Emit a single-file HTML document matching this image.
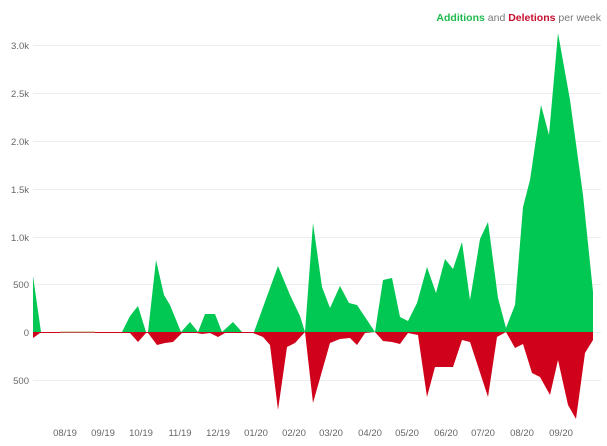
<!DOCTYPE html>
<html><head><meta charset="utf-8"><style>
html,body{margin:0;padding:0;background:#fff;}
svg{display:block;font-family:"Liberation Sans",sans-serif;}
</style></head><body>
<svg width="607" height="446" viewBox="0 0 607 446" xmlns="http://www.w3.org/2000/svg">
<text x="601" y="21" text-anchor="end" font-size="10.5" fill="#777"><tspan fill="#1fba4d" font-weight="bold">Additions</tspan> and <tspan fill="#c8102e" font-weight="bold">Deletions</tspan> per week</text>
<g stroke="#eee" stroke-width="1">
<line x1="33" x2="601" y1="45.5" y2="45.5"/><line x1="33" x2="601" y1="93.5" y2="93.5"/>
<line x1="33" x2="601" y1="141.5" y2="141.5"/><line x1="33" x2="601" y1="189.5" y2="189.5"/>
<line x1="33" x2="601" y1="237.5" y2="237.5"/><line x1="33" x2="601" y1="284.5" y2="284.5"/>
<line x1="33" x2="601" y1="332.5" y2="332.5"/><line x1="33" x2="601" y1="380.5" y2="380.5"/>
</g>
<g font-size="9.5" fill="#666" text-anchor="end">
<text x="29" y="49">3.0k</text><text x="29" y="97">2.5k</text><text x="29" y="145">2.0k</text>
<text x="29" y="193">1.5k</text><text x="29" y="241">1.0k</text><text x="29" y="288">500</text>
<text x="29" y="336">0</text><text x="29" y="384">500</text>
</g>
<g font-size="9.5" fill="#666" text-anchor="middle">
<text x="65" y="436">08/19</text><text x="103" y="436">09/19</text><text x="141" y="436">10/19</text>
<text x="180" y="436">11/19</text><text x="218" y="436">12/19</text><text x="256" y="436">01/20</text>
<text x="294" y="436">02/20</text><text x="331" y="436">03/20</text><text x="370" y="436">04/20</text>
<text x="407" y="436">05/20</text><text x="446" y="436">06/20</text><text x="483" y="436">07/20</text>
<text x="522" y="436">08/20</text><text x="561" y="436">09/20</text>
</g>
<polygon fill="#00c853" points="33,332 33,276 41,332 60,332 122,332 130,316 138,306 146,332 148,332 156,260 164,295 170,305 181,332 190,322 198,332 205,314 215,314 222,332 233,322 242,332 254,332 262,310 278,266 290,295 300,316 305,332 313,223 322,287 330,308 340,286 349,303 357,305 365,317 375,332 383,280 392,278 400,317 408,321 417,303 427,267 436,293 445,259 453,269 462,242 470,300 480,239 488,222 498,298 506,328 515,305 523,207 530,180 541,105 549,135 558,33 570,100 583,195 593,292 593,332"/>
<polygon fill="#d0021b" points="33,332 33,338 40,333 130,333 138,342 146,333 148,333 157,345 165,343 173,342 182,333 197,333 202,334 210,333 218,337 225,333 253,333 263,337 270,345 278,410 287,347 295,343 305,332 313,403 330,343 340,339 350,338 357,345 365,333 375,332 383,341 392,342 400,344 408,333 418,335 427,397 435,367 453,367 462,340 470,342 488,397 497,337 506,332 515,348 523,344 532,373 540,377 550,395 558,360 568,405 576,419 585,353 593,340 593,332"/>
<line x1="60" x2="95" y1="332" y2="332" stroke="#b9a070" stroke-width="1"/>
</svg>
</body></html>
